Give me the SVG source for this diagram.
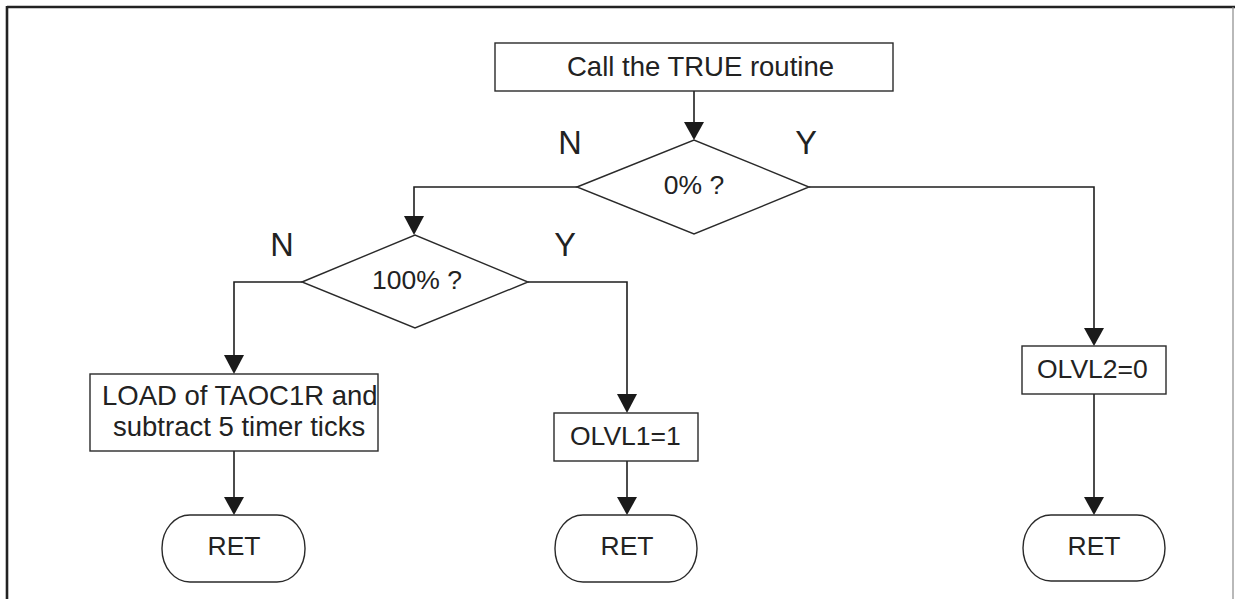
<svg xmlns="http://www.w3.org/2000/svg" width="1235" height="599" viewBox="0 0 1235 599">
<style>
.shape{fill:#fff;stroke:#2a2a2a;stroke-width:1.4}
.conn{fill:none;stroke:#1e1e1e;stroke-width:1.6}
.head{fill:#1a1a1a}
.t{font-family:"Liberation Sans",Arial,sans-serif;font-size:26.5px;fill:#222}
.big{font-size:27.5px}
.lbl{font-family:"Liberation Sans",Arial,sans-serif;font-size:32.5px;fill:#222;text-anchor:middle}
.c{text-anchor:middle}
</style>
<rect width="1235" height="599" fill="#fff"/>
<g id="frame">
<line x1="7" y1="7" x2="1235" y2="7" stroke="#222" stroke-width="2.6"/>
<line x1="7" y1="6" x2="7" y2="599" stroke="#222" stroke-width="2.6"/>
<line x1="1233" y1="7" x2="1233" y2="599" stroke="#8a8a8a" stroke-width="1.2"/>
</g>
<g id="connectors">
<path class="conn" d="M694,91 V122"/>
<polygon class="head" points="684,122 704,122 694,140"/>
<path class="conn" d="M577,187 H414 V216"/>
<polygon class="head" points="404,216 424,216 414,235"/>
<path class="conn" d="M809,187 H1094 V328"/>
<polygon class="head" points="1084,328 1104,328 1094,346"/>
<path class="conn" d="M302,282 H234 V355"/>
<polygon class="head" points="224,355 244,355 234,374"/>
<path class="conn" d="M528,282 H627 V394"/>
<polygon class="head" points="617,394 637,394 627,413"/>
<path class="conn" d="M234,451 V497"/>
<polygon class="head" points="224,497 244,497 234,515"/>
<path class="conn" d="M627,461 V497"/>
<polygon class="head" points="617,497 637,497 627,515"/>
<path class="conn" d="M1094,394 V497"/>
<polygon class="head" points="1084,497 1104,497 1094,515"/>
</g>
<g id="n-start">
<rect class="shape" x="495" y="43" width="398" height="48"/>
<text class="t big" x="567" y="76">Call the TRUE routine</text>
</g>
<g id="n-dec0">
<polygon class="shape" points="577,187 694,140 809,187 694,234"/>
<text class="t c" x="694" y="194">0% ?</text>
</g>
<g id="lbl-n1"><text class="lbl" x="570" y="154">N</text></g>
<g id="lbl-y1"><text class="lbl" x="806" y="154">Y</text></g>
<g id="n-dec100">
<polygon class="shape" points="302,282 415,235 528,282 415,328"/>
<text class="t c" x="417" y="289">100% ?</text>
</g>
<g id="lbl-n2"><text class="lbl" x="282" y="256">N</text></g>
<g id="lbl-y2"><text class="lbl" x="565" y="256">Y</text></g>
<g id="n-load">
<rect class="shape" x="90" y="374" width="288" height="77"/>
<text class="t big" x="102" y="405">LOAD of TAOC1R and</text>
<text class="t big" x="113" y="436">subtract 5 timer ticks</text>
</g>
<g id="n-olvl1">
<rect class="shape" x="554" y="413" width="144" height="48"/>
<text class="t" x="570" y="445">OLVL1=1</text>
</g>
<g id="n-olvl2">
<rect class="shape" x="1022" y="346" width="144" height="48"/>
<text class="t" x="1037" y="378">OLVL2=0</text>
</g>
<g id="n-ret1">
<rect class="shape" x="162" y="515" width="143" height="67" rx="28" ry="33"/>
<text class="t c" x="234" y="555">RET</text>
</g>
<g id="n-ret2">
<rect class="shape" x="555" y="515" width="142" height="67" rx="28" ry="33"/>
<text class="t c" x="627" y="555">RET</text>
</g>
<g id="n-ret3">
<rect class="shape" x="1023" y="515" width="142" height="66" rx="28" ry="33"/>
<text class="t c" x="1094" y="555">RET</text>
</g>
</svg>
